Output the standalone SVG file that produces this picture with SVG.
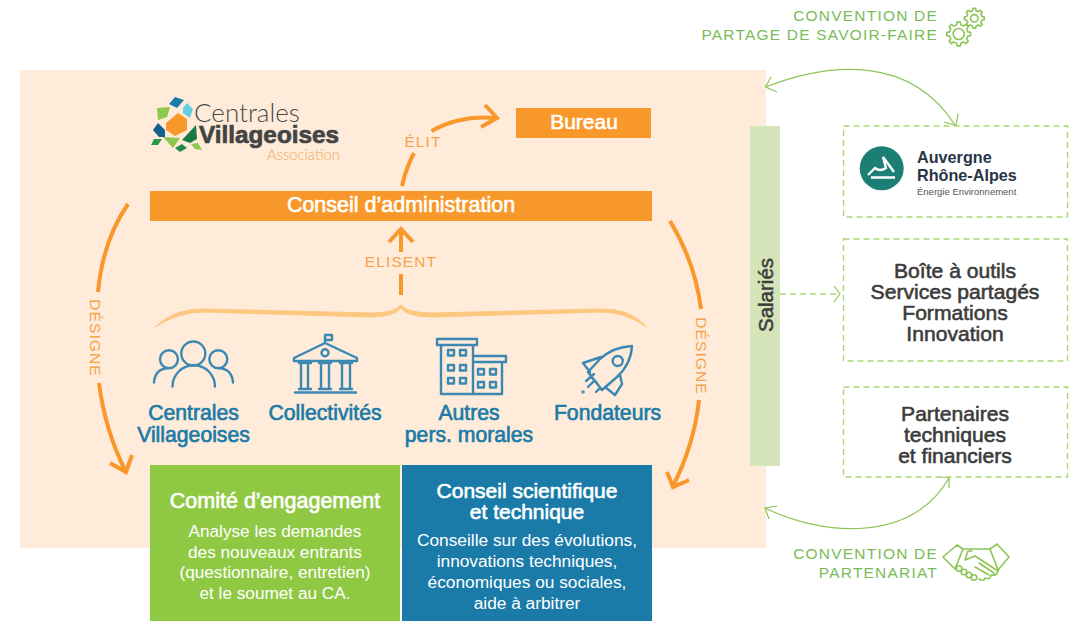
<svg xmlns="http://www.w3.org/2000/svg" width="1079" height="621" viewBox="0 0 1079 621">
<style>
text{font-family:"Liberation Sans",Arial,sans-serif}
.w{fill:#fff}.c{text-anchor:middle}
.tw{fill:#fff;stroke:#fff;stroke-width:.6;text-anchor:middle}
.blue{fill:#1a7ba8;stroke:#1a7ba8;stroke-width:.65;font-size:21.2px;text-anchor:middle}
.ic{fill:none;stroke:#3b88b3;stroke-width:2.4;stroke-linejoin:round;stroke-linecap:round}
.or{fill:none;stroke:#f9982a;stroke-width:4}
.lab{fill:#f6a24a;font-size:15.5px;letter-spacing:1.1px;text-anchor:middle}
.gl{fill:#79bb56;font-size:15.5px;letter-spacing:1.2px;text-anchor:end}
.gi{fill:none;stroke:#8cc554;stroke-width:1.6;stroke-linejoin:round;stroke-linecap:round}
.gc{fill:none;stroke:#8cc554;stroke-width:1.2}
.box{fill:#fff;stroke:#a9d672;stroke-width:1.3;stroke-dasharray:6 4}
.bl{fill:#3c3c3b;stroke:#3c3c3b;stroke-width:.6;font-size:21.1px;text-anchor:middle}
</style>
<defs>
<path id="gear" d="M7.6-1.75L9.9-1.39V1.39L7.6 1.75L6.61 4.13L7.99 6.02L6.02 7.99L4.13 6.61L1.75 7.6L1.39 9.9H-1.39L-1.75 7.6L-4.13 6.61L-6.02 7.99L-7.99 6.02L-6.61 4.13L-7.6 1.75L-9.9 1.39V-1.39L-7.6-1.75L-6.61-4.13L-7.99-6.02L-6.02-7.99L-4.13-6.61L-1.75-7.6L-1.39-9.9H1.39L1.75-7.6L4.13-6.61L6.02-7.99L7.99-6.02L6.61-4.13Z"/>
</defs>
<rect x="20" y="70" width="746" height="478" fill="#feebd9"/>
<g id="logo">
<polygon points="166,123 178,113 187,119 187,130 175,136 166,130" fill="#f9982a"/>
<polygon points="169,104 175,97 184,100 177,108" fill="#1a7ba8"/>
<polygon points="183,108 187,103 193,109 190,118 183,113" fill="#64cfe0"/>
<polygon points="157,108 170,107 167,117 158,120" fill="#8fc84e"/>
<polygon points="158,123 165,130 165,137 159,137 153,130" fill="#125f8e"/>
<polygon points="182,140 196,125 197,139 190,143" fill="#1a7a45"/>
<polygon points="151,145 154,139 162,139 158,145" fill="#2a9a4a"/>
<polygon points="163,137 180,138 173,148" fill="#8fc84e"/>
<polygon points="175,148 182,144 187,148 180,152" fill="#1f8a4e"/>
<polygon points="191,144 198,143 202,150 195,149" fill="#8fc84e"/>
<text x="194" y="122" font-size="26" fill="#4a4a4a" style="font-family:Lato,sans-serif" font-weight="300">Centrales</text>
<text x="199" y="143" font-size="24.300" font-weight="bold" fill="#444" stroke="#444" stroke-width=".7">Villageoises</text>
<text x="267" y="160" font-size="14.800" fill="#f6a75a" style="font-family:Lato,sans-serif" font-weight="300">Association</text>
</g>
<g id="bureau"><rect x="516" y="108" width="135" height="30" fill="#f9982a"/><text x="584" y="129" class="tw" font-size="21">Bureau</text></g>
<g id="conseil"><rect x="150" y="191" width="502" height="30" fill="#f9982a"/><text x="401" y="212" class="tw" font-size="21.500">Conseil d’administration</text></g>
<g id="connectors">
<path class="or" d="M402 186Q406 168 414 153"/>
<path class="or" d="M431.500 131Q460 115 495 118"/>
<path class="or" d="M485 105L497 118L481 127"/>
<path class="or" d="M401 252V230M389 242L401 229L413 242"/>
<path class="or" d="M401 295V274"/>
<path d="M155 327Q175 308 205 309L370 313Q395 313 401 305Q407 313 432 313L600 309Q630 308 647 327Q625 312 600 312L432 317Q408 317 401 308Q394 317 370 317L205 312Q178 312 155 327Z" fill="#fdc77e" stroke="#fdc77e"/>
<path class="or" d="M128 204Q103 240 98 292"/>
<path class="or" d="M99 383Q105 430 125 470M110 463L126 472L132 455"/>
<path class="or" d="M670 221Q695 262 701 309"/>
<path class="or" d="M699 400Q694 445 673 486M667 472L673 487L689 480"/>
<path class="gc" d="M765.500 87C830 62 910 55 955 125M777 92L765.500 87L771 77M944 122L956 125.500L958 114"/>
<path class="gc" d="M765 508C820 535 910 545 949 478M777 506L765 508L769 519M937 477L949 477.500L949 488"/>
<path d="M780 294H839" fill="none" stroke="#a9d672" stroke-width="1.300" stroke-dasharray="6 4"/>
<path d="M834 286L840 294L834 302" fill="none" stroke="#a9d672" stroke-width="1.300"/>
</g>
<text class="lab" x="423" y="147">ÉLIT</text>
<text class="lab" x="401" y="267">ELISENT</text>
<text class="lab" transform="translate(89.500 338) rotate(90)">DÉSIGNE</text>
<text class="lab" transform="translate(695.500 356) rotate(90)">DÉSIGNE</text>
<g id="centrales">
<g class="ic"><circle cx="193.300" cy="353.500" r="12"/><circle cx="169" cy="359.300" r="9"/><circle cx="218.300" cy="359.300" r="9"/><path d="M172.500 386.500A21 21 0 0 1 215 386.500M154 382.500Q155 369 168 368M233 382.500Q232 369 219 368"/></g>
<text class="blue" x="193.500" y="420">Centrales</text><text class="blue" x="193.500" y="442">Villageoises</text></g>
<g id="collectivites">
<g class="ic"><path d="M325 343V335H332V340H325M294 358L325 343L357 358V361H294ZM295 392.500H356M301 365V388M308 365V388M321 365V388M329 365V388M342 365V388M350 365V388M299 363H311M319 363H331M340 363H352M299 389H311M319 389H331M340 389H352"/><circle cx="325" cy="352.700" r="3.500"/></g>
<text class="blue" x="325" y="420">Collectivités</text></g>
<g id="autres">
<g class="ic"><path d="M437 339H477V345H437ZM441 345H473V394H441ZM473 356H506V362H473ZM473 362H502V394H473Z"/><path d="M448 350h6v5.500h-6zM460 350h6v5.500h-6zM448 365h6v5.500h-6zM460 365h6v5.500h-6zM448 378h6v5.500h-6zM460 378h6v5.500h-6zM478 369h6v5.500h-6zM490 369h6v5.500h-6zM478 382h6v5.500h-6zM490 382h6v5.500h-6z"/></g>
<text class="blue" x="469" y="420">Autres</text><text class="blue" x="469" y="442">pers. morales</text></g>
<g id="fondateurs">
<g class="ic"><path d="M632 346Q613 347 600 359L588 372L602 390L617 377Q631 364 632 346ZM601 357L583 363L590 372M620 375L622 384L615 395L605 387M591 377L597 383M594 374L586 381M588 387L594 381M596 392L600 388"/><circle cx="617.700" cy="361" r="5"/><circle cx="583" cy="392" r=".6"/></g>
<text class="blue" x="607.500" y="420">Fondateurs</text></g>
<g id="comite"><rect x="150" y="465" width="250" height="156" fill="#8fc944"/>
<text class="tw" x="275" y="508" font-size="21.500">Comité d’engagement</text>
<g class="w c" font-size="17.200"><text x="275" y="537">Analyse les demandes</text><text x="275" y="558">des nouveaux entrants</text><text x="275" y="578">(questionnaire, entretien)</text><text x="275" y="599">et le soumet au CA.</text></g></g>
<g id="scientifique"><rect x="402" y="465" width="250" height="156" fill="#1a7ba8"/>
<text class="tw" x="527" y="497.500" font-size="21">Conseil scientifique</text><text class="tw" x="527" y="519" font-size="21">et technique</text>
<g class="w c" font-size="17.300"><text x="527" y="546">Conseille sur des évolutions,</text><text x="527" y="567">innovations techniques,</text><text x="527" y="588">économiques ou sociales,</text><text x="527" y="609">aide à arbitrer</text></g></g>
<g id="salaries"><rect x="750" y="126" width="30" height="340" fill="#d5e5b9"/><text transform="translate(773 295) rotate(-90)" text-anchor="middle" fill="#3c3c3b" stroke="#3c3c3b" stroke-width=".5" font-size="20.500">Salariés</text></g>
<g id="auvergne"><rect class="box" x="843.500" y="126" width="224" height="91"/><circle cx="881.700" cy="168.300" r="22" fill="#1b7f75"/>
<path d="M868 175L875 168Q880 172 886 168L883 157L894 172M871 177.500H895" fill="none" stroke="#fff" stroke-width="2.400"/>
<text x="917" y="163" font-size="16.200" font-weight="bold" fill="#2a3447">Auvergne</text><text x="917" y="181" font-size="16.200" font-weight="bold" fill="#2a3447">Rhône-Alpes</text><text x="917" y="194.500" font-size="9.500" fill="#555">Énergie Environnement</text></g>
<g id="services"><rect class="box" x="843.500" y="239" width="224" height="122"/>
<text class="bl" x="955" y="278">Boîte à outils</text><text class="bl" x="955" y="299">Services partagés</text><text class="bl" x="955" y="320">Formations</text><text class="bl" x="955" y="341">Innovation</text></g>
<g id="partenaires"><rect class="box" x="843.500" y="387" width="224" height="90"/>
<text class="bl" x="955" y="421">Partenaires</text><text class="bl" x="955" y="442">techniques</text><text class="bl" x="955" y="463">et financiers</text></g>
<g id="conv1"><text class="gl" x="938" y="21">CONVENTION DE</text><text class="gl" x="938" y="40">PARTAGE DE SAVOIR-FAIRE</text>
<g class="gi"><circle cx="974.300" cy="18.300" r="3.700"/><use href="#gear" transform="translate(974.300 18.300)"/><circle cx="958.700" cy="34" r="5.500"/><use href="#gear" transform="translate(958.700 34) scale(1.200)" stroke-width="1.330"/></g></g>
<g id="conv2"><text class="gl" x="938" y="559">CONVENTION DE</text><text class="gl" x="938" y="578">PARTENARIAT</text>
<g class="gi"><path d="M957 545L943 557L955 569L963 549H990L997 544L1009 557L998 570L990 549M957 545L963 549"/>
<path d="M972 551H968L965 560L975 556L998 571Q997 576 991 575Q991 580 985 578Q984 582 979 579M975 567L989 575M979 563L994 573"/><circle cx="959" cy="568.500" r="2.800"/><circle cx="964" cy="572" r="2.800"/><circle cx="969" cy="575" r="2.800"/><circle cx="974" cy="577.500" r="2.800"/></g></g>
</svg>
